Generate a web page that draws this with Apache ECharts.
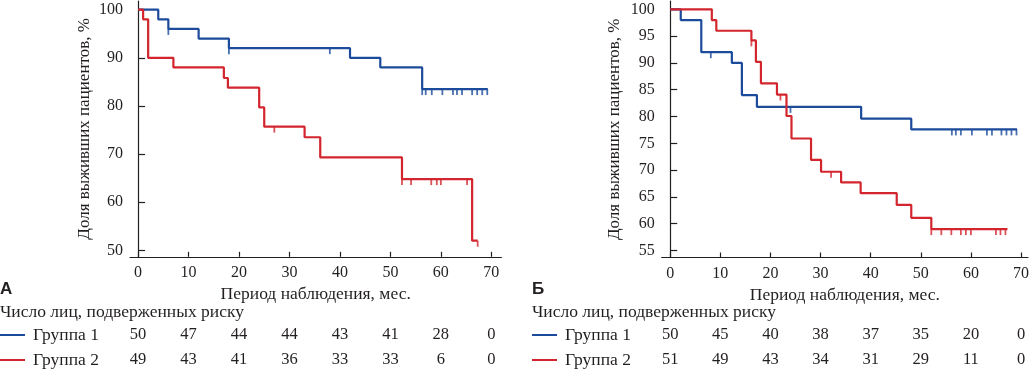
<!DOCTYPE html>
<html><head><meta charset="utf-8">
<script src="https://cdn.jsdelivr.net/npm/echarts@6/dist/echarts.min.js"></script>
<style>html,body{margin:0;padding:0;background:#fff}#c{width:1032px;height:372px}</style>
</head><body><div id="c"></div>
<script>
// ---- data ----
const xTicks = [0, 10, 20, 30, 40, 50, 60, 70];
const yTicksA = [50, 60, 70, 80, 90, 100];
const yTicksB = [55, 60, 65, 70, 75, 80, 85, 90, 95, 100];
const panelLabels = ['А', 'Б'];
const groupNames = ['Группа 1', 'Группа 2'];
const riskTitle = 'Число лиц, подверженных риску';
const xName = 'Период наблюдения, мес.';
const yName = 'Доля выживших пациентов, %';

// Panel A (time, survival % after event)
const curveA1 = [[0,100],[4,98],[6,96],[12,94],[18,92],[42,90],[48,88],[56.3,83.5],[69.3,83.5]];
const censorA1 = [[6,96],[18,92],[38,92],[56.3,83.5],[57,83.5],[58.2,83.5],[60.3,83.5],[62.4,83.5],[63.2,83.5],[64.2,83.5],[66.2,83.5],[67.2,83.5],[68.2,83.5],[69.2,83.5]];
const curveA2 = [[0,100],[1,98],[2,90],[7,88],[17,85.8],[17.8,83.8],[24,79.7],[25,75.7],[33,73.5],[36.1,69.3],[52.3,64.8],[66.2,52],[67.3,52]];
const censorA2 = [[27,75.7],[52.3,64.8],[54.1,64.8],[58.1,64.8],[59.2,64.8],[60,64.8],[65.2,64.8],[67.3,52]];

// Panel B
const curveB1 = [[0,100],[2.1,98],[6.2,92],[12.3,90],[14.3,84],[17.3,81.8],[38.1,79.6],[48.1,77.6],[69.2,77.6]];
const censorB1 = [[8.1,92],[24,81.8],[56.2,77.6],[57,77.6],[58,77.6],[60.2,77.6],[63.2,77.6],[64.2,77.6],[66.1,77.6],[67.1,77.6],[68.1,77.6],[69.1,77.6]];
const curveB2 = [[0,100],[8.3,98],[9.2,96],[16.2,94.2],[17.1,90.2],[18.1,86.2],[21.3,84.1],[23.2,80.1],[24.2,75.9],[28.1,71.9],[30.1,69.7],[34.1,67.7],[38,65.7],[45.2,63.5],[48.1,61.1],[52.1,59],[67.3,59]];
const censorB2 = [[16.2,94.2],[22,84.1],[32.1,69.7],[52.1,59],[54.1,59],[56.1,59],[58,59],[59,59],[60,59],[65,59],[65.9,59],[66.9,59]];

// numbers at risk (at xTicks)
const riskA1 = [50, 47, 44, 44, 43, 41, 28, 0];
const riskA2 = [49, 43, 41, 36, 33, 33, 6, 0];
const riskB1 = [50, 45, 40, 38, 37, 35, 20, 0];
const riskB2 = [51, 49, 43, 34, 31, 29, 11, 0];

// ---- styles ----
const BLUE = '#1c4b9c';
const RED = '#d3252d';
const INK = '#231f20';
const SERIF = '"Liberation Serif", "Times New Roman", serif';
const FS = 16;
const FT = 17.5;

const chart = echarts.init(document.getElementById('c'), null, {renderer: 'canvas'});

function xAxisCfg(gi, min, max) {
  return {
    type: 'value', gridIndex: gi, min: min, max: max,
    axisLine: {lineStyle: {color: INK, width: 1.2}},
    axisTick: {inside: true, length: 5, customValues: xTicks, lineStyle: {color: INK, width: 1.2}},
    axisLabel: {customValues: xTicks, margin: 8, color: INK, fontFamily: SERIF, fontSize: FS},
    splitLine: {show: false},
    name: xName, nameLocation: 'middle', nameGap: 27,
    nameTextStyle: {color: INK, fontFamily: SERIF, fontSize: FT}
  };
}
function yAxisCfg(gi, min, max, ticks, gap) {
  return {
    type: 'value', gridIndex: gi, min: min, max: max,
    axisLine: {lineStyle: {color: INK, width: 1.2}},
    axisTick: {inside: true, length: 7, customValues: ticks, lineStyle: {color: INK, width: 1.2}},
    axisLabel: {customValues: ticks, margin: 7, color: INK, fontFamily: SERIF, fontSize: FS},
    splitLine: {show: false},
    name: yName, nameLocation: 'middle', nameGap: gap, nameRotate: 90,
    nameTextStyle: {color: INK, fontFamily: SERIF, fontSize: 17}
  };
}
function curve(xi, data, color) {
  return {type: 'line', xAxisIndex: xi, yAxisIndex: xi, data: data, step: 'end',
    showSymbol: false, symbol: 'none', lineStyle: {color: color, width: 2.2}, silent: true};
}
function censor(xi, data, color) {
  return {type: 'scatter', xAxisIndex: xi, yAxisIndex: xi, data: data,
    symbol: 'rect', symbolSize: [1.8, 6], symbolOffset: [0, 3],
    itemStyle: {color: color}, silent: true};
}

chart.setOption({
  animation: false,
  backgroundColor: '#fff',
  grid: [
    {left: 130, top: 1, width: 371.4, height: 255.8},
    {left: 661.7, top: 1, width: 369.2, height: 256.5}
  ],
  xAxis: [xAxisCfg(0, -1.6, 72.0), xAxisCfg(1, -1.7, 71.4)],
  yAxis: [yAxisCfg(0, 48.66, 101.8, yTicksA, 37), yAxisCfg(1, 53.7, 101.55, yTicksB, 39)],
  series: [
    curve(0, curveA1, BLUE), curve(0, curveA2, RED),
    censor(0, censorA1, BLUE), censor(0, censorA2, RED),
    curve(1, curveB1, BLUE), curve(1, curveB2, RED),
    censor(1, censorB1, BLUE), censor(1, censorB2, RED)
  ]
});

// ---- risk tables via graphic, aligned with the axes' scales ----
const g = [];
function txt(x, y, s, size, opts) {
  g.push({type: 'text', x: x, y: y, silent: true,
    style: Object.assign({text: s, fill: INK, font: size + 'px ' + SERIF, textVerticalAlign: 'middle'}, opts || {})});
}
function panel(xi, left, labelLeft, rows) {
  g.push({type: 'text', x: labelLeft, y: 289, silent: true,
    style: {text: panelLabels[xi], fill: INK, font: 'bold 17px "Liberation Sans", Arial, sans-serif', textVerticalAlign: 'middle'}});
  txt(labelLeft, 312, riskTitle, FT);
  const rowY = [335, 360];
  const cols = [BLUE, RED];
  rows.forEach((vals, r) => {
    g.push({type: 'line', silent: true, shape: {x1: left, y1: rowY[r], x2: left + 25, y2: rowY[r]},
      style: {stroke: cols[r], lineWidth: 2}});
    txt(left + 33, rowY[r], groupNames[r], FT);
    vals.forEach((v, i) => {
      const px = chart.convertToPixel({xAxisIndex: xi}, xTicks[i]);
      txt(px, rowY[r], String(v), 16.5, {textAlign: 'center'});
    });
  });
}
panel(0, 0, 0, [riskA1, riskA2]);
panel(1, 532, 532, [riskB1, riskB2]);
chart.setOption({graphic: g});
</script></body></html>
